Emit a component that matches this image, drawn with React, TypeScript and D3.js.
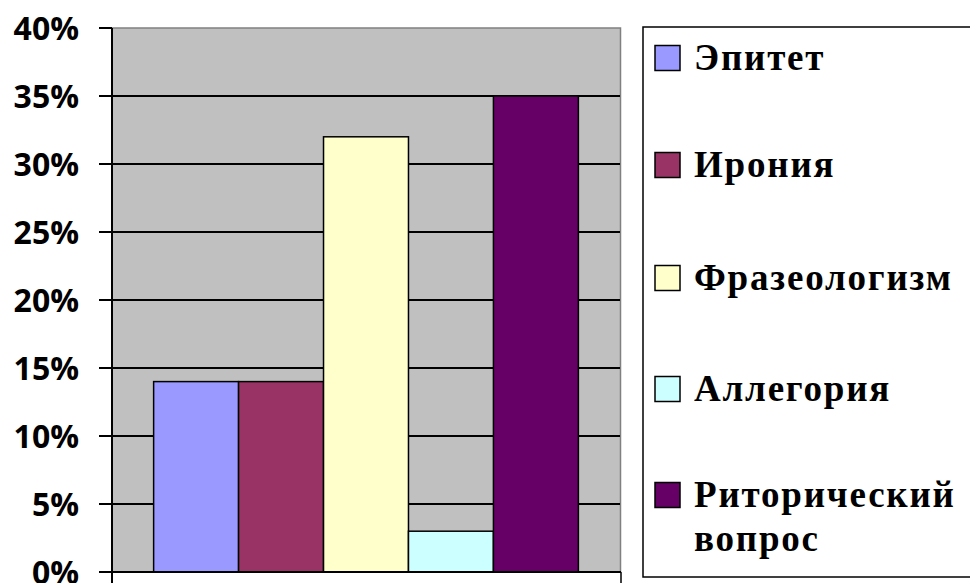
import React from "react";
import * as d3 from "d3";

const categories = ["Эпитет", "Ирония", "Фразеологизм", "Аллегория", "Риторический вопрос"];
const values = [0.14, 0.14, 0.32, 0.03, 0.35];
const colors = ["#9999FF", "#993366", "#FFFFCC", "#CCFFFF", "#660066"];
const yTicks = [0, 0.05, 0.1, 0.15, 0.2, 0.25, 0.3, 0.35, 0.4];
const legendLines = [["Эпитет"], ["Ирония"], ["Фразеологизм"], ["Аллегория"], ["Риторический", "вопрос"]];

export default function App() {
  const W = 970, H = 583;
  const left = 112, right = 620, top = 28, bottom = 572;
  const x = d3.scaleBand<string>().domain(categories).range([left, right]).paddingInner(0).paddingOuter(0.49);
  const y = d3.scaleLinear().domain([0, 0.4]).range([bottom, top]);
  const fmt = d3.format(".0%");
  const legendY = [58, 165, 278, 389, 495];
  return (
    <svg width={W} height={H} style={{ position: "absolute", left: 0, top: 0, display: "block", background: "#fff" }}>
      <rect x={left} y={top} width={right - left} height={bottom - top} fill="#C0C0C0" />
      <path d={`M${left},${top}H${right + 0.5}V${bottom}`} fill="none" stroke="#808080" strokeWidth={1.5} />
      {yTicks.filter(t => t > 0 && t < 0.4).map(t => (
        <line key={t} x1={left} x2={right} y1={y(t)} y2={y(t)} stroke="#000" strokeWidth={2} />
      ))}
      {categories.map((c, i) => (
        <rect key={c} x={x(c)} y={y(values[i])} width={x.bandwidth()} height={y(0) - y(values[i])}
          fill={colors[i]} stroke="#000" strokeWidth={1.5} />
      ))}
      <line x1={left} x2={left} y1={top} y2={H} stroke="#000" strokeWidth={2} />
      <line x1={99} x2={right + 1} y1={bottom} y2={bottom} stroke="#000" strokeWidth={2} />
      <line x1={right + 1} x2={right + 1} y1={bottom} y2={H} stroke="#000" strokeWidth={1.5} />
      {yTicks.map(t => (
        <g key={t}>
          <line x1={99} x2={left} y1={y(t)} y2={y(t)} stroke="#000" strokeWidth={2} />
          <text x={79} y={y(t)} dy="0.36em" textAnchor="end"
            style={{ fontFamily: "'Open Sans', 'Liberation Sans', sans-serif", fontWeight: 700, fontSize: 32 }} fill="#000">{fmt(t)}</text>
        </g>
      ))}
      <rect x={643} y={27} width={340} height={550} fill="#fff" stroke="#000" strokeWidth={1.5} />
      {categories.map((c, i) => (
        <g key={c}>
          <rect x={655} y={legendY[i] - 12.5} width={25} height={25} fill={colors[i]} stroke="#000" strokeWidth={1.5} />
          {legendLines[i].map((ln, j) => (
            <text key={j} x={694} y={legendY[i] + 12 + j * 44}
              style={{ fontFamily: "'Liberation Serif', 'DejaVu Serif', 'Times New Roman', serif", fontWeight: 700, fontSize: 37, letterSpacing: 1.8 }}
              fill="#000">{ln}</text>
          ))}
        </g>
      ))}
    </svg>
  );
}
